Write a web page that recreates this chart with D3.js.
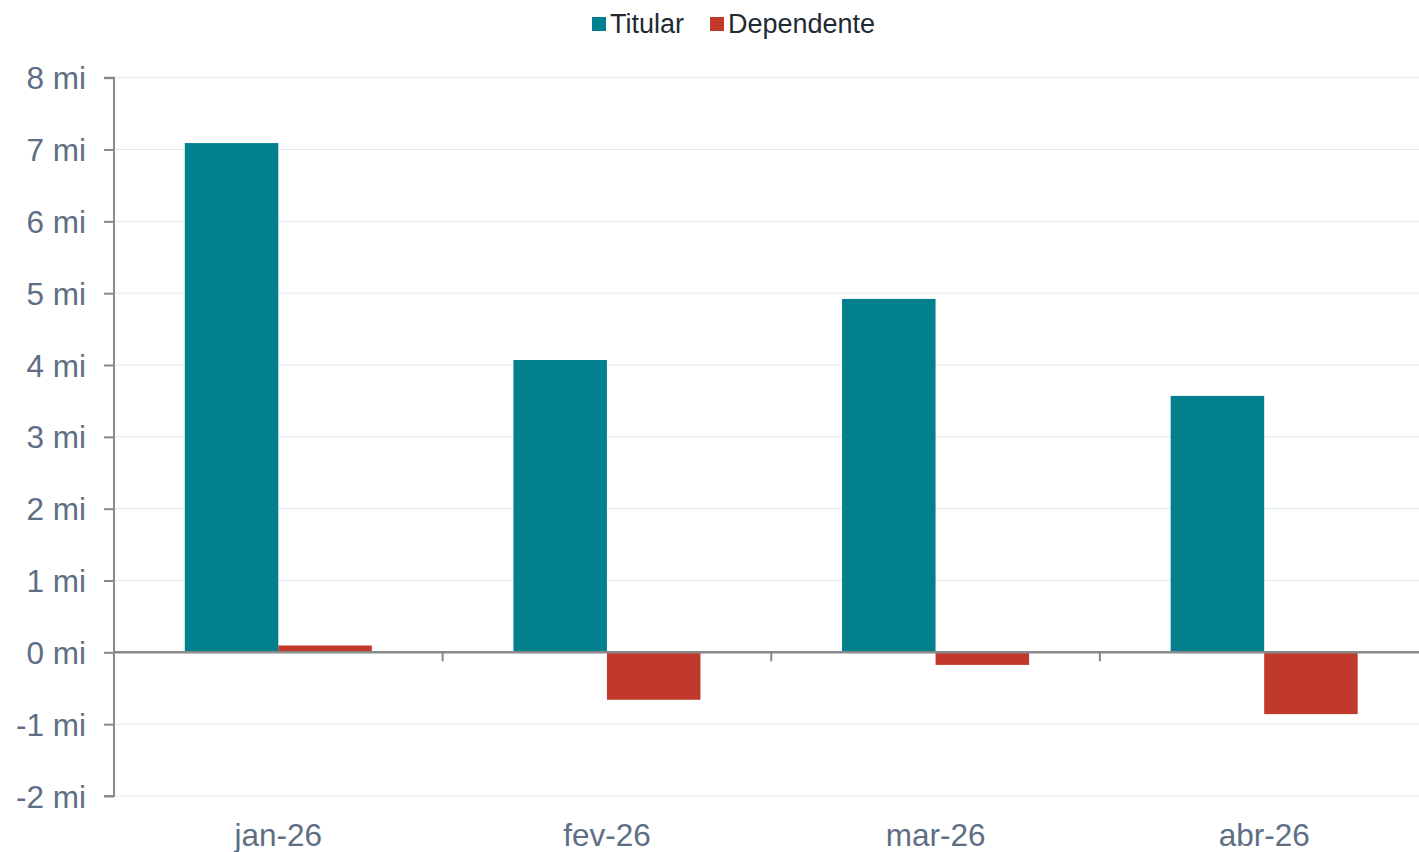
<html>
<head>
    <script src="https://cdn.jsdelivr.net/npm/d3@7"></script>
    <style>
        body { margin: 0; background: #fff; }
        text { font-family: "Liberation Sans", Arial, sans-serif; }
    </style>
</head>
<body>
<script>
    // data (thousands)
    var months = ["jan-26", "fev-26", "mar-26", "abr-26"];
    var titular = [7.09, 4.07, 4.92, 3.57];
    var dependente = [0.095, -0.66, -0.175, -0.86];
    var seriesNames = ["Titular", "Dependente"];
    var colours = ["#02808e", "#c0392b"];
    var yTicks = [-2, -1, 0, 1, 2, 3, 4, 5, 6, 7, 8];

    var width = 1419, height = 852;

    var svg = d3.select("body")
        .append("svg")
        .attr("width", width)
        .attr("height", height);

    // x: one band per month, plot spans past the right edge like the original
    var x = d3.scaleBand()
        .domain(months)
        .range([114, 1428.5])
        .padding(0);

    var y = d3.scaleLinear()
        .domain([-2, 8])
        .range([796, 77.7]);

    // gridlines
    svg.append("g")
        .selectAll("line")
        .data(yTicks)
        .join("line")
        .attr("x1", 114)
        .attr("x2", width)
        .attr("y1", d => y(d))
        .attr("y2", d => y(d))
        .attr("stroke", "#e3e8f0")
        .attr("stroke-width", 1);

    // bars
    var barW = 93.5;
    var rows = months.map((m, i) => ({ month: m, values: [titular[i], dependente[i]] }));

    svg.append("g")
        .selectAll("g")
        .data(rows)
        .join("g")
        .selectAll("rect")
        .data(d => d.values.map((v, j) => ({ month: d.month, v: v, j: j })))
        .join("rect")
        .attr("x", d => x(d.month) + x.bandwidth() / 2 - barW + d.j * barW)
        .attr("width", barW)
        .attr("y", d => y(Math.max(0, d.v)))
        .attr("height", d => Math.abs(y(d.v) - y(0)))
        .attr("fill", d => colours[d.j]);

    // y axis
    var yAxis = d3.axisLeft(y)
        .tickValues(yTicks)
        .tickFormat(d => d + " mi")
        .tickSize(10)
        .tickPadding(18);

    var yg = svg.append("g")
        .attr("transform", "translate(114,0)")
        .call(yAxis);
    yg.select(".domain").attr("stroke", "#898989").attr("stroke-width", 2)
        .attr("d", "M-10," + y(8) + "H0V" + y(-2) + "H-10");
    yg.selectAll(".tick line").attr("stroke", "#898989").attr("stroke-width", 2);
    yg.selectAll(".tick text")
        .attr("fill", "#5e6e84")
        .style("font-size", "31.5px")
        .attr("dy", "0.35em");

    // x axis on the zero line, ticks at the band edges
    var xg = svg.append("g")
        .attr("transform", "translate(0," + y(0) + ")");
    xg.append("line")
        .attr("x1", 114).attr("x2", width)
        .attr("stroke", "#898989").attr("stroke-width", 2.5);
    xg.selectAll(".sep")
        .data(months.slice(1))
        .join("line")
        .attr("class", "sep")
        .attr("x1", d => x(d)).attr("x2", d => x(d))
        .attr("y1", 0).attr("y2", 9)
        .attr("stroke", "#898989").attr("stroke-width", 2);

    // month labels at the bottom
    svg.append("g")
        .selectAll("text")
        .data(months)
        .join("text")
        .attr("x", d => x(d) + x.bandwidth() / 2)
        .attr("y", 846)
        .attr("text-anchor", "middle")
        .attr("fill", "#5e6e84")
        .style("font-size", "31.5px")
        .text(d => d);

    // legend
    var legendX = [592, 710];
    var legend = svg.append("g")
        .selectAll("g")
        .data(seriesNames)
        .join("g")
        .attr("transform", (d, i) => "translate(" + legendX[i] + ",0)");
    legend.append("rect")
        .attr("x", 0).attr("y", 17)
        .attr("width", 14).attr("height", 14)
        .attr("fill", (d, i) => colours[i]);
    legend.append("text")
        .attr("x", 18).attr("y", 33)
        .attr("fill", "#1f2a33")
        .style("font-size", "27px")
        .text(d => d);
</script>
</body>
</html>
